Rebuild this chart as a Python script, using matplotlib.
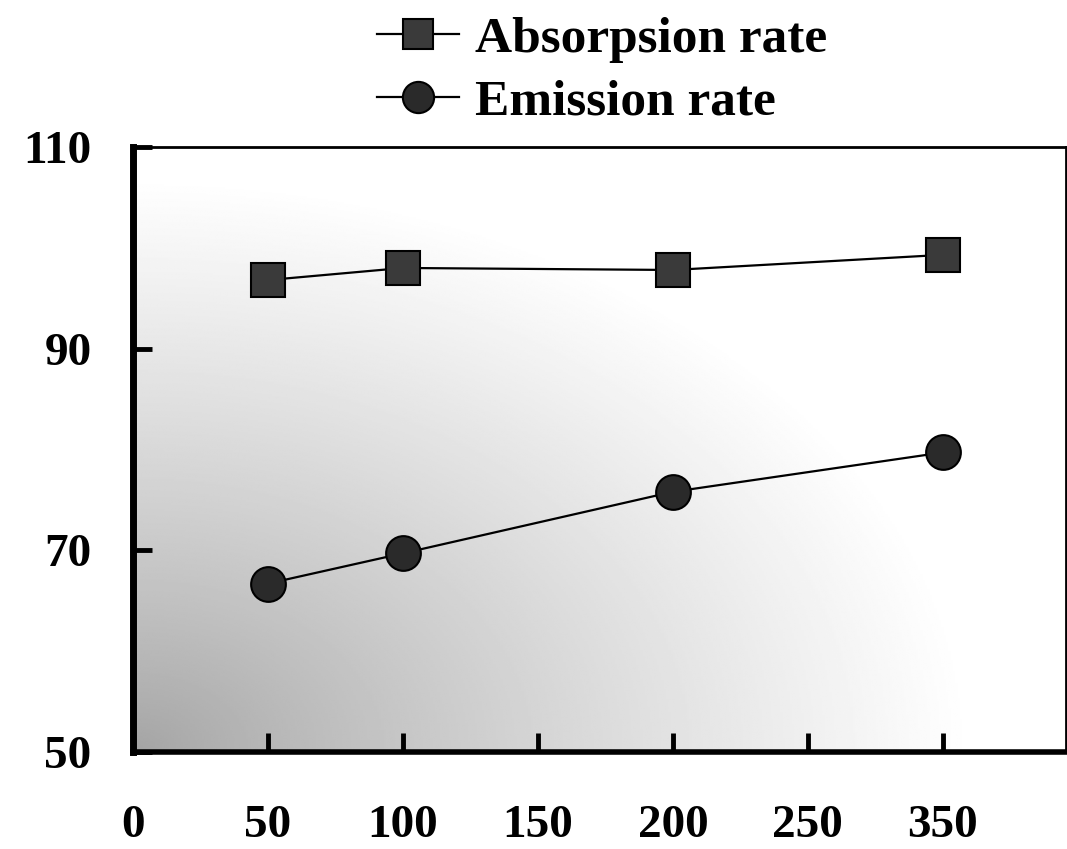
import numpy as np
import matplotlib
matplotlib.use("Agg")
import matplotlib.pyplot as plt

# Data
x_labels = ['0', '50', '100', '150', '200', '250', '350']
x_points = ['50', '100', '200', '350']
absorption = [96.8, 98.0, 97.8, 99.3]
emission = [66.7, 69.7, 75.8, 79.7]
y_ticks = [50, 70, 90, 110]

plt.rcParams['font.family'] = ['Liberation Serif', 'DejaVu Serif']
plt.rcParams['font.weight'] = 'bold'

fig = plt.figure(figsize=(10.67, 8.49), dpi=100)
ax = fig.add_axes([0.1247, 0.1143, 0.874, 0.7126])

# gradient background: grey at the lower-left corner fading to white
gx, gy = np.meshgrid(np.linspace(0, 1, 400), np.linspace(0, 1, 400))
r = np.sqrt((gx / 0.9) ** 2 + (gy / 0.95) ** 2)
shade = 0.64 + 0.36 * np.clip(r, 0, 1) ** 0.85
ax.imshow(shade, cmap='gray', vmin=0, vmax=1, origin='lower', extent=[0, 1, 0, 1],
          transform=ax.transAxes, aspect='auto', interpolation='bilinear', zorder=0)

# x axis is categorical: equally spaced ticks
pos = {lab: i for i, lab in enumerate(x_labels)}
xp = [pos[v] for v in x_points]

ax.plot(xp, absorption, '-', color='black', lw=1.6, marker='s', ms=24,
        markerfacecolor='#3a3a3a', markeredgecolor='black', mew=1.5, zorder=3,
        label='Absorpsion rate')
ax.plot(xp, emission, '-', color='black', lw=1.6, marker='o', ms=25,
        markerfacecolor='#2a2a2a', markeredgecolor='black', mew=1.5, zorder=3,
        label='Emission rate')

ax.set_xlim(0.0, 6.91)
ax.set_ylim(50, 110)

ax.set_xticks(range(len(x_labels)))
ax.set_xticklabels(x_labels)
ax.set_yticks(y_ticks)
ax.set_yticklabels([str(v) for v in y_ticks])
ax.tick_params(axis='both', direction='in', length=14, width=3.5, labelsize=34)
ax.tick_params(axis='x', pad=38)
ax.tick_params(axis='y', pad=30)

ax.spines['left'].set_linewidth(5)
ax.spines['bottom'].set_linewidth(4)
ax.spines['top'].set_linewidth(2)
ax.spines['right'].set_linewidth(2)

fig.legend(loc='upper left', bbox_to_anchor=(0.334, 1.005), frameon=False,
           fontsize=37, handlelength=1.6, handletextpad=0.3, labelspacing=0.3,
           markerscale=0.9, borderaxespad=0.0)

fig.savefig('out.png', dpi=100)
